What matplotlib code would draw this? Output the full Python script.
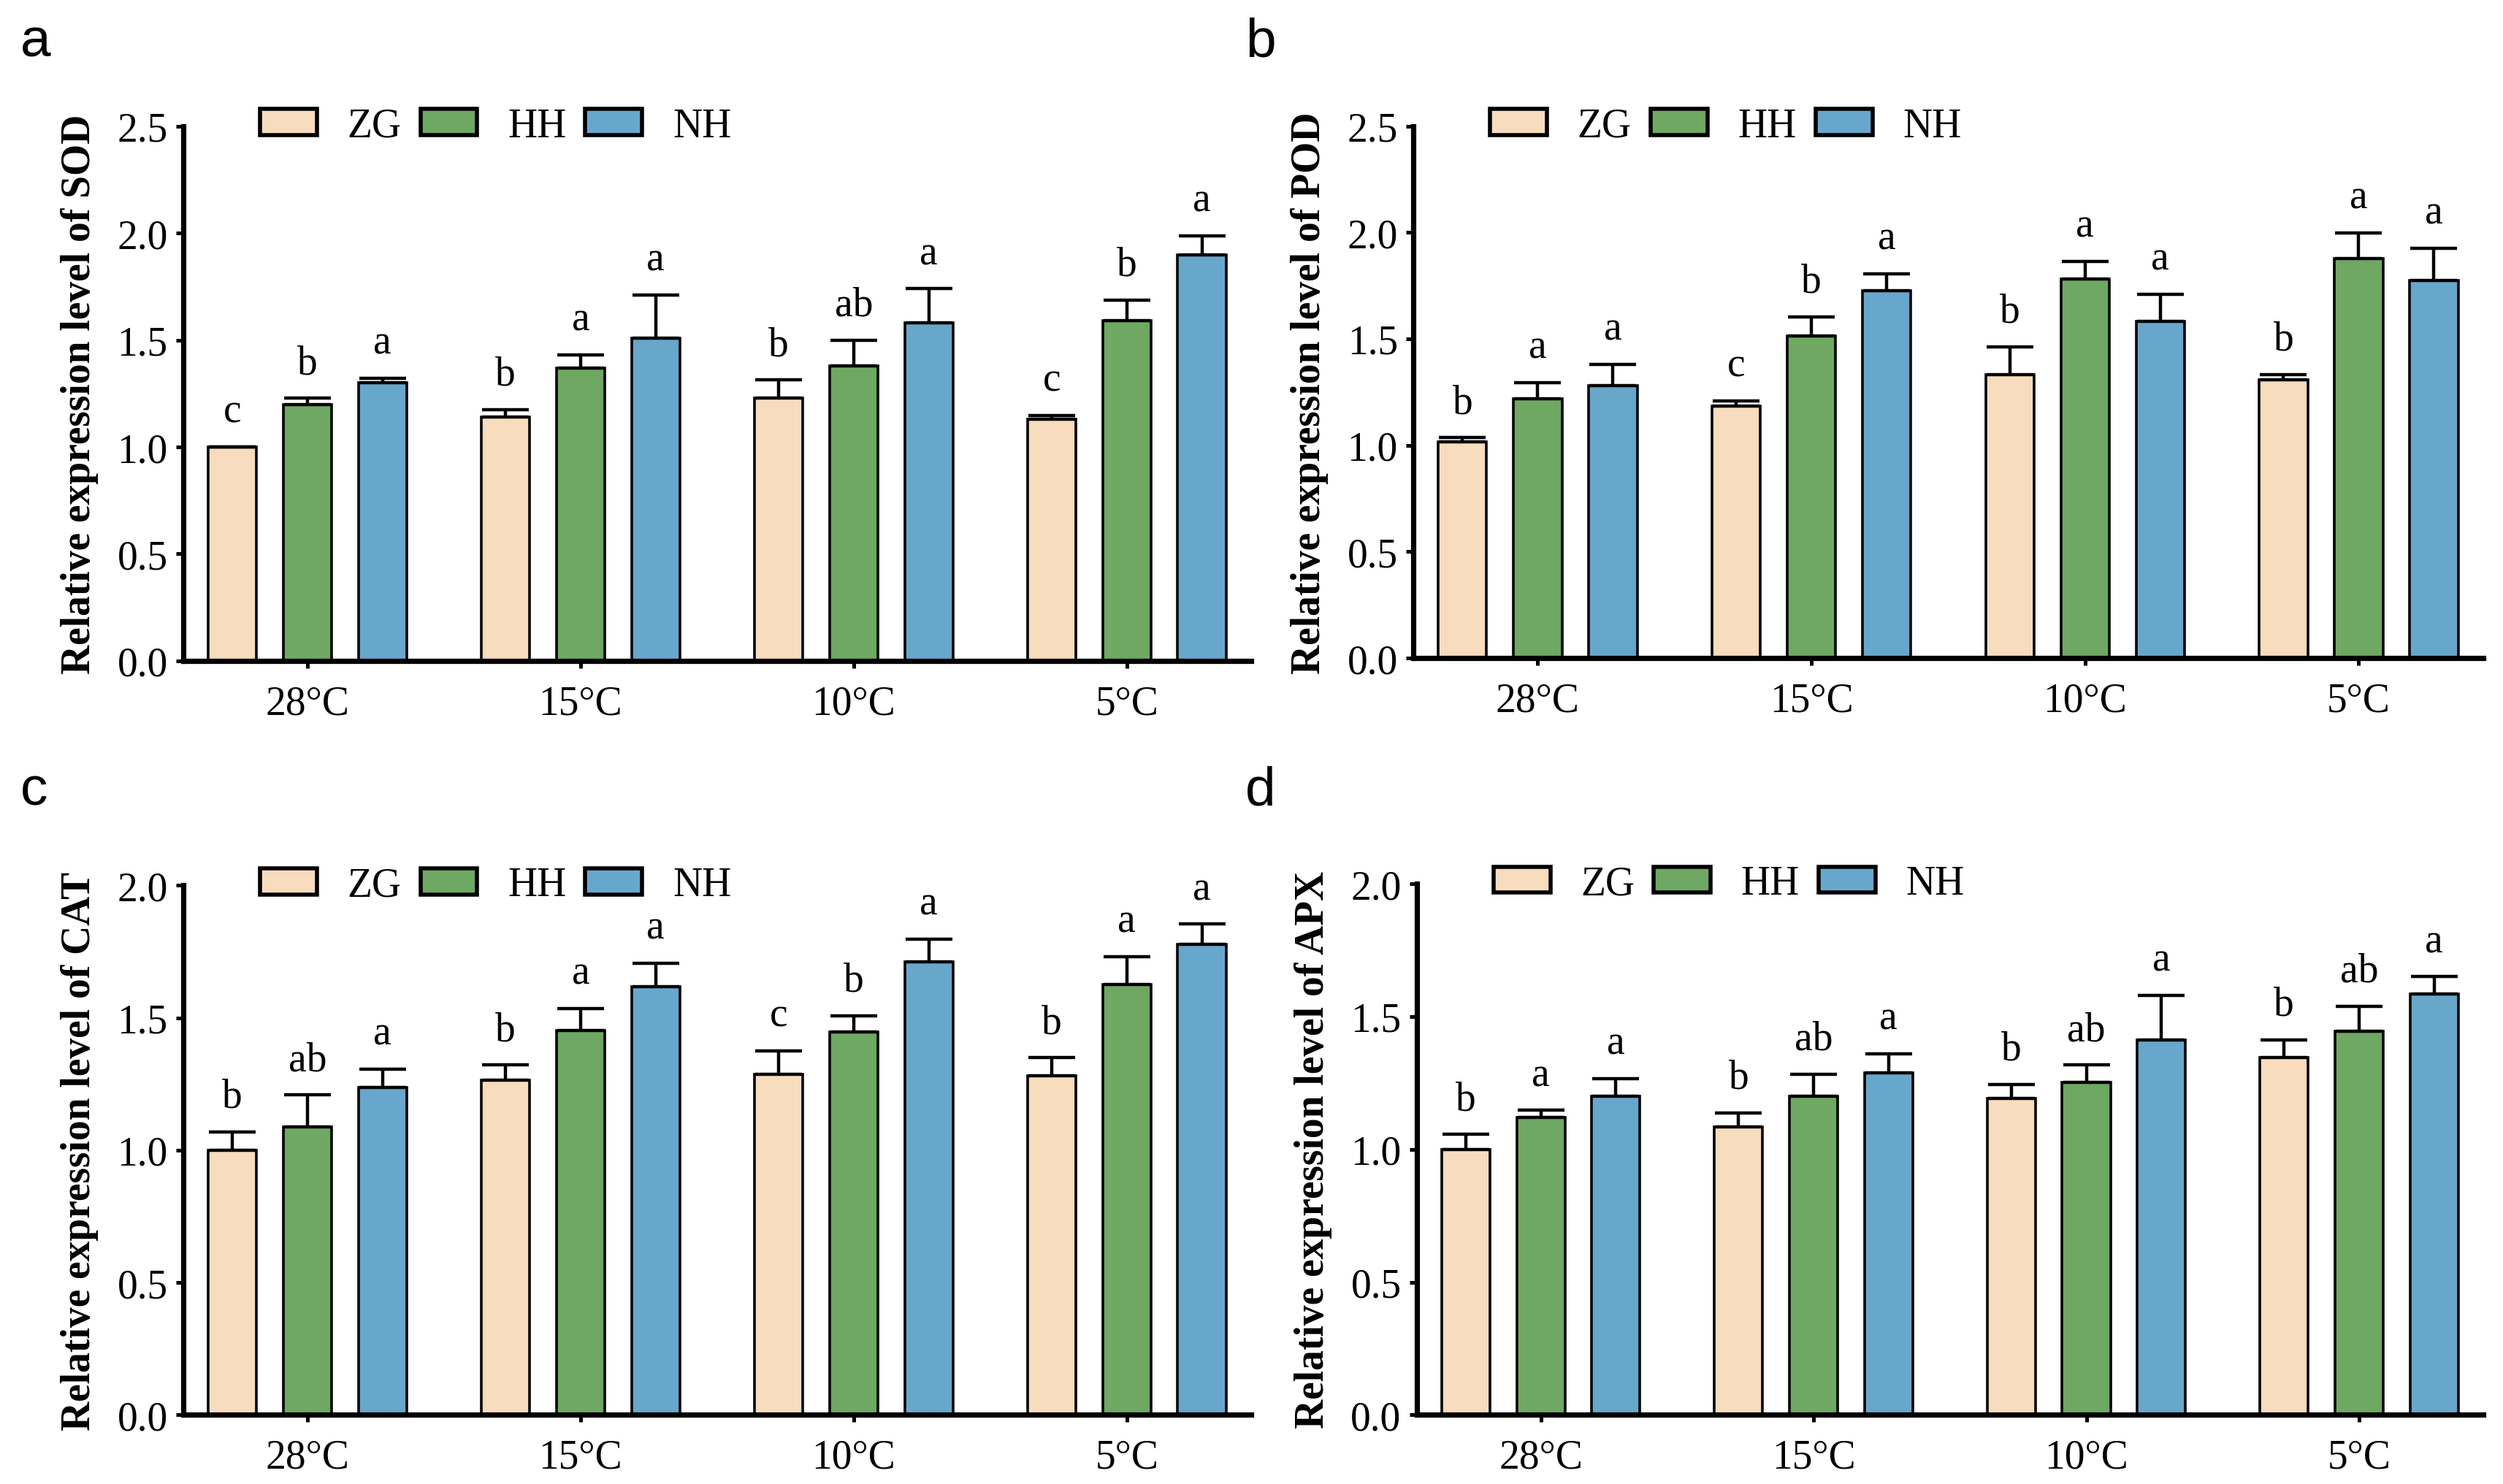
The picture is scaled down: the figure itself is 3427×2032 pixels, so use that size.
import matplotlib
matplotlib.use("Agg")
import matplotlib.pyplot as plt
from matplotlib.patches import Patch
import numpy as np

plt.rcParams['font.family'] = ['Liberation Serif', 'DejaVu Serif']

temps = ['28°C', '15°C', '10°C', '5°C']
cultivars = ['ZG', 'HH', 'NH']
colors = ['#F8DCBE', '#6EA862', '#68A7CC']

# SOD
sod_zg = [1.00, 1.14, 1.23, 1.13]
sod_zg_err = [0.0, 0.035, 0.083, 0.017]
sod_hh = [1.20, 1.37, 1.38, 1.59]
sod_hh_err = [0.028, 0.06, 0.12, 0.096]
sod_nh = [1.30, 1.51, 1.58, 1.90]
sod_nh_err = [0.022, 0.20, 0.16, 0.087]
sod_letters = [['c', 'b', 'a'], ['b', 'a', 'a'], ['b', 'ab', 'a'], ['c', 'b', 'a']]

# POD
pod_zg = [1.015, 1.183, 1.332, 1.308]
pod_zg_err = [0.02, 0.025, 0.13, 0.024]
pod_hh = [1.22, 1.514, 1.78, 1.879]
pod_hh_err = [0.075, 0.09, 0.085, 0.12]
pod_nh = [1.28, 1.728, 1.584, 1.774]
pod_nh_err = [0.10, 0.077, 0.127, 0.153]
pod_letters = [['b', 'a', 'a'], ['c', 'b', 'a'], ['b', 'a', 'a'], ['b', 'a', 'a']]

# CAT
cat_zg = [1.0, 1.266, 1.287, 1.282]
cat_zg_err = [0.07, 0.056, 0.088, 0.067]
cat_hh = [1.089, 1.453, 1.446, 1.626]
cat_hh_err = [0.12, 0.083, 0.062, 0.106]
cat_nh = [1.237, 1.619, 1.712, 1.778]
cat_nh_err = [0.07, 0.087, 0.085, 0.076]
cat_letters = [['b', 'ab', 'a'], ['b', 'a', 'a'], ['c', 'b', 'a'], ['b', 'a', 'a']]

# APX
apx_zg = [1.0, 1.085, 1.191, 1.346]
apx_zg_err = [0.056, 0.053, 0.053, 0.067]
apx_hh = [1.12, 1.2, 1.252, 1.444]
apx_hh_err = [0.027, 0.083, 0.065, 0.095]
apx_nh = [1.2, 1.289, 1.412, 1.585]
apx_nh_err = [0.067, 0.07, 0.167, 0.065]
apx_letters = [['b', 'a', 'a'], ['b', 'ab', 'a'], ['b', 'ab', 'a'], ['b', 'ab', 'a']]

panels = [
    ('a', 'SOD', [sod_zg, sod_hh, sod_nh], [sod_zg_err, sod_hh_err, sod_nh_err], sod_letters, 2.5,
     [0.0732, 0.5544, 0.4266, 0.3601]),
    ('b', 'POD', [pod_zg, pod_hh, pod_nh], [pod_zg_err, pod_hh_err, pod_nh_err], pod_letters, 2.5,
     [0.5646, 0.5563, 0.4275, 0.3583]),
    ('c', 'CAT', [cat_zg, cat_hh, cat_nh], [cat_zg_err, cat_hh_err, cat_nh_err], cat_letters, 2.0,
     [0.0732, 0.0465, 0.4266, 0.3566]),
    ('d', 'APX', [apx_zg, apx_hh, apx_nh], [apx_zg_err, apx_hh_err, apx_nh_err], apx_letters, 2.0,
     [0.5660, 0.0465, 0.4261, 0.3578]),
]

label_pos = {'a': (0.008, 0.962), 'b': (0.4975, 0.962), 'c': (0.008, 0.4575), 'd': (0.4975, 0.4575)}

fig = plt.figure(figsize=(3427 / 200, 2033 / 200), dpi=200)

x = np.arange(len(temps))
step = 0.275
width = 0.177
fs = 20

for letter, enzyme, vals, errs, lets, ymax, pos in panels:
    ax = fig.add_axes(pos)
    for i in range(3):
        xi = x + (i - 1) * step
        ax.bar(xi, vals[i], width=width, color=colors[i], edgecolor='black', linewidth=1.3, zorder=2)
        ax.errorbar(xi, vals[i], yerr=[np.zeros(len(temps)), errs[i]], fmt='none',
                    ecolor='black', elinewidth=1.6, capsize=11.5, capthick=1.6, zorder=3)
        for j in range(len(temps)):
            ax.annotate(lets[j][i], (xi[j], vals[i][j] + errs[i][j]), xytext=(0, 8),
                        textcoords='offset points', ha='center', va='bottom', fontsize=fs)
    ax.set_xlim(-0.455, 3.455)
    ax.set_ylim(0, ymax)
    ax.set_yticks(np.arange(0, ymax + 0.01, 0.5))
    ax.set_yticklabels([f'{v:.1f}' for v in np.arange(0, ymax + 0.01, 0.5)])
    ax.set_xticks(x)
    ax.set_xticklabels(temps)
    ax.tick_params(axis='both', direction='out', length=3.6, width=1.8, labelsize=fs, pad=4)
    ax.tick_params(axis='x', pad=8)
    for s in ['top', 'right']:
        ax.spines[s].set_visible(False)
    for s in ['left', 'bottom']:
        ax.spines[s].set_linewidth(2.6)
    ax.set_ylabel(f'Relative expression level of {enzyme}', fontsize=20, fontweight='bold', va='center')
    ax.yaxis.set_label_coords(-0.097, 0.5)
    handles = [Patch(facecolor=colors[i], edgecolor='black', linewidth=2.0, label=cultivars[i]) for i in range(3)]
    ax.legend(handles=handles, loc='center left', bbox_to_anchor=(0.072, 1.0), ncol=3, frameon=False,
              fontsize=fs, handlelength=1.4, handleheight=0.61, handletextpad=0.75, columnspacing=0.47,
              borderpad=0, borderaxespad=0)
    fig.text(label_pos[letter][0], label_pos[letter][1], letter, fontsize=27,
             family=['Liberation Sans', 'DejaVu Sans'], ha='left', va='baseline')

fig.savefig('out.png', dpi=200)
